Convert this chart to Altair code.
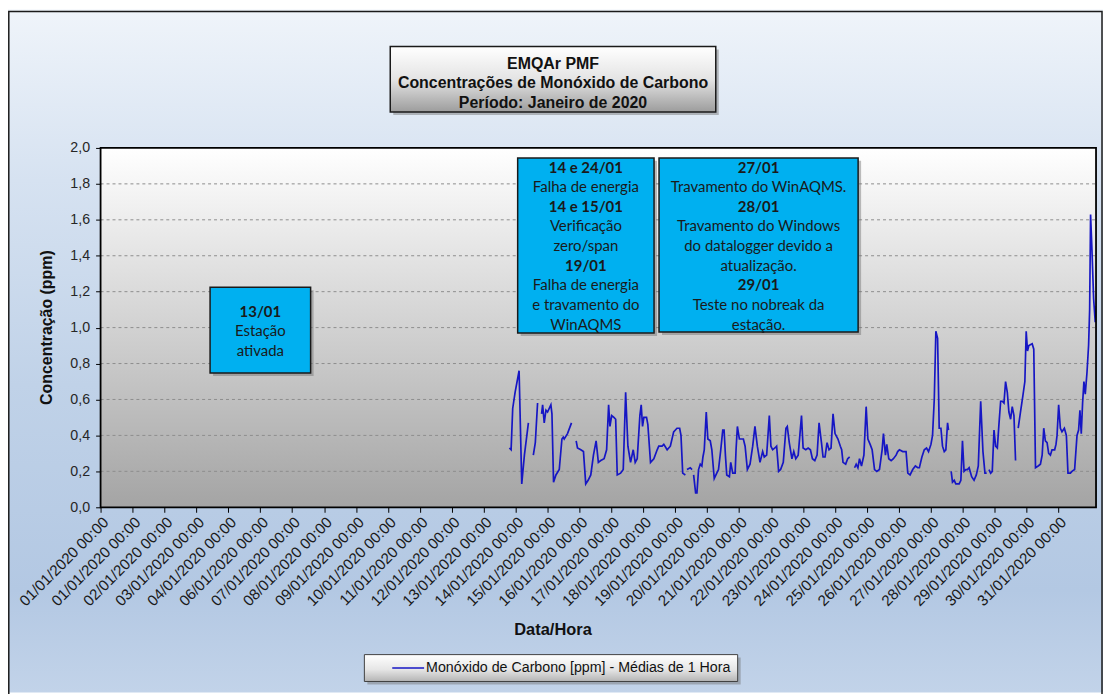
import altair as alt
import pandas as pd

# ---------------- data ----------------
x_labels = [
    "01/01/2020 00:00", "01/01/2020 00:00", "02/01/2020 00:00", "03/01/2020 00:00",
    "04/01/2020 00:00", "06/01/2020 00:00", "07/01/2020 00:00", "08/01/2020 00:00",
    "09/01/2020 00:00", "10/01/2020 00:00", "11/01/2020 00:00", "12/01/2020 00:00",
    "13/01/2020 00:00", "14/01/2020 00:00", "15/01/2020 00:00", "16/01/2020 00:00",
    "17/01/2020 00:00", "18/01/2020 00:00", "19/01/2020 00:00", "20/01/2020 00:00",
    "21/01/2020 00:00", "22/01/2020 00:00", "23/01/2020 00:00", "24/01/2020 00:00",
    "25/01/2020 00:00", "26/01/2020 00:00", "27/01/2020 00:00", "28/01/2020 00:00",
    "29/01/2020 00:00", "30/01/2020 00:00", "31/01/2020 00:00",
]
y_ticks = [0.0, 0.2, 0.4, 0.6, 0.8, 1.0, 1.2, 1.4, 1.6, 1.8, 2.0]

# hourly category index (24 per labelled tick) and CO concentration (ppm), per continuous piece
seg_a_hour = [307.3, 308.6, 309.8, 311.6, 314.6, 316.6, 318.6, 321.6]
seg_a_conc = [0.33, 0.32, 0.55, 0.64, 0.76, 0.13, 0.29, 0.47]

seg_b_hour = [325.3, 326.8, 328.5]
seg_b_conc = [0.29, 0.36, 0.58]

seg_c_hour = [331.5, 332.3, 333.5, 334.8, 336.0, 338.5, 339.3, 340.5, 342.3, 344.8,
              346.8, 347.8, 348.5, 351.0, 354.0]
seg_c_conc = [0.52, 0.57, 0.47, 0.54, 0.53, 0.57, 0.52, 0.14, 0.18, 0.21,
              0.38, 0.39, 0.38, 0.41, 0.47]

seg_d_hour = [357.5, 358.5, 361.0, 363.0, 364.7, 366.5, 368.5, 370.5, 372.5, 374.2,
              376.0, 378.5, 380.4, 381.9, 382.9, 384.2, 385.9, 387.2, 388.4, 390.9,
              392.9, 394.7, 396.4, 398.4, 400.4, 401.9, 403.4, 405.4, 406.4, 407.4,
              408.4, 410.4, 411.4, 413.4, 415.9, 418.4, 419.6, 422.1, 423.4, 425.9,
              428.3, 430.8, 433.3, 435.3, 436.3, 437.6, 439.6]
seg_d_conc = [0.37, 0.33, 0.32, 0.31, 0.13, 0.15, 0.18, 0.29, 0.37, 0.25,
              0.26, 0.27, 0.32, 0.57, 0.45, 0.51, 0.50, 0.49, 0.18, 0.19,
              0.21, 0.64, 0.34, 0.25, 0.32, 0.25, 0.27, 0.51, 0.57, 0.45,
              0.50, 0.50, 0.46, 0.25, 0.27, 0.32, 0.34, 0.34, 0.35, 0.32,
              0.34, 0.42, 0.44, 0.44, 0.40, 0.19, 0.18]

seg_e_hour = [440.8, 443.3, 444.6]
seg_e_conc = [0.21, 0.22, 0.21]

seg_f_hour = [445.8, 447.3, 448.3, 449.5, 450.8, 452.0, 452.8, 453.8, 455.3, 456.5,
              458.3, 459.5, 461.3, 463.2, 464.5, 466.2, 467.7, 468.7, 469.7, 470.7,
              472.7, 473.7, 475.2, 477.0, 477.7, 478.7, 480.2, 482.0, 483.2, 484.5,
              486.2, 488.2, 490.2, 491.9, 493.7, 495.7, 497.7, 498.9, 500.7, 502.7,
              503.9, 505.2, 506.9, 508.2, 509.7, 511.2, 513.2, 515.2, 516.2, 517.7,
              519.7, 521.1, 522.6, 524.4, 526.9, 528.1, 530.1, 531.9, 533.6, 535.1,
              536.9, 538.6, 540.1, 541.9, 543.1, 544.6, 546.1, 547.6, 549.1, 550.6,
              552.1, 554.3, 556.1, 557.1, 558.1, 560.1, 561.6, 563.1]
seg_f_conc = [0.18, 0.08, 0.08, 0.21, 0.24, 0.23, 0.28, 0.32, 0.53, 0.38,
              0.37, 0.32, 0.16, 0.19, 0.21, 0.32, 0.43, 0.43, 0.29, 0.18,
              0.17, 0.25, 0.19, 0.19, 0.32, 0.45, 0.38, 0.38, 0.38, 0.34,
              0.21, 0.24, 0.34, 0.45, 0.34, 0.25, 0.31, 0.28, 0.29, 0.51,
              0.34, 0.32, 0.33, 0.34, 0.20, 0.21, 0.25, 0.44, 0.45, 0.36,
              0.27, 0.31, 0.27, 0.29, 0.51, 0.33, 0.32, 0.33, 0.32, 0.27,
              0.26, 0.29, 0.47, 0.36, 0.28, 0.28, 0.36, 0.32, 0.33, 0.52,
              0.41, 0.38, 0.34, 0.32, 0.25, 0.24, 0.27, 0.28]

seg_g_hour = [566.8, 568.0, 569.3, 570.5, 572.0, 573.8, 575.5, 576.8, 578.5, 580.0,
              581.8, 583.5, 585.5, 587.5, 588.5, 590.0, 591.0, 592.5, 594.3, 596.0,
              598.0, 599.2, 600.5, 603.0, 605.5, 606.8, 608.5, 610.5, 612.5, 614.3,
              615.5, 617.4, 619.2, 620.9, 622.4, 624.2, 625.4, 626.7, 627.9, 629.2,
              630.4, 631.7, 632.9, 634.2, 635.4, 636.7, 637.4]
seg_g_conc = [0.22, 0.24, 0.22, 0.27, 0.23, 0.29, 0.56, 0.38, 0.35, 0.32,
              0.21, 0.20, 0.21, 0.32, 0.41, 0.29, 0.35, 0.27, 0.26, 0.27,
              0.29, 0.31, 0.32, 0.31, 0.31, 0.19, 0.18, 0.21, 0.23, 0.22,
              0.22, 0.28, 0.32, 0.33, 0.31, 0.35, 0.40, 0.60, 0.98, 0.94,
              0.44, 0.44, 0.34, 0.31, 0.32, 0.47, 0.43]

seg_h_hour = [639.4, 640.4, 641.7, 642.9, 645.4, 646.7, 647.9, 649.1, 650.4, 651.6,
              652.9, 654.8, 656.6, 658.3, 659.8, 661.6, 663.3, 664.8, 666.1]
seg_h_conc = [0.20, 0.14, 0.15, 0.13, 0.13, 0.15, 0.37, 0.20, 0.21, 0.21,
              0.22, 0.17, 0.15, 0.18, 0.23, 0.59, 0.31, 0.19, 0.19]

seg_i_hour = [667.8, 669.1, 670.3, 671.6, 672.8, 674.1, 675.3, 676.6, 677.8, 679.1,
              680.3, 681.6, 682.8, 684.1, 685.3, 686.6, 687.8]
seg_i_conc = [0.21, 0.19, 0.20, 0.43, 0.34, 0.33, 0.46, 0.59, 0.59, 0.58,
              0.70, 0.64, 0.53, 0.49, 0.56, 0.51, 0.26]

seg_j_hour = [689.8, 691.5, 693.3, 694.8, 695.8, 696.8, 697.8, 700.3, 701.5, 702.8,
              704.8, 706.5, 707.8, 709.0, 710.2, 711.5, 712.7, 714.0, 715.2, 717.2,
              718.2, 719.0, 720.2, 721.5, 722.7, 724.5, 726.0, 727.2, 729.0, 730.2,
              732.2, 734.0, 735.2, 736.2, 737.2, 738.2, 739.2, 740.2, 741.5, 742.7,
              743.5, 744.2, 745.2, 746.5, 747.7, 748.6]
seg_j_conc = [0.44, 0.53, 0.62, 0.70, 0.98, 0.87, 0.90, 0.91, 0.88, 0.22,
              0.23, 0.24, 0.29, 0.44, 0.37, 0.36, 0.30, 0.29, 0.32, 0.32,
              0.35, 0.40, 0.57, 0.44, 0.42, 0.44, 0.40, 0.19, 0.19, 0.20,
              0.21, 0.40, 0.43, 0.54, 0.41, 0.58, 0.70, 0.63, 0.75, 0.90,
              1.10, 1.63, 1.44, 1.16, 1.03, 1.12]

segments = {
    "a": (seg_a_hour, seg_a_conc), "b": (seg_b_hour, seg_b_conc),
    "c": (seg_c_hour, seg_c_conc), "d": (seg_d_hour, seg_d_conc),
    "e": (seg_e_hour, seg_e_conc), "f": (seg_f_hour, seg_f_conc),
    "g": (seg_g_hour, seg_g_conc), "h": (seg_h_hour, seg_h_conc),
    "i": (seg_i_hour, seg_i_conc), "j": (seg_j_hour, seg_j_conc),
}

# annotation texts (text, bold)
note_1 = [("13/01", True), ("Estação", False), ("ativada", False)]
note_2 = [("14 e 24/01", True), ("Falha de energia", False), ("14 e 15/01", True),
          ("Verificação", False), ("zero/span", False), ("19/01", True),
          ("Falha de energia", False), ("e travamento do", False), ("WinAQMS", False)]
note_3 = [("27/01", True), ("Travamento do WinAQMS.", False), ("28/01", True),
          ("Travamento do Windows", False), ("do datalogger devido a", False),
          ("atualização.", False), ("29/01", True), ("Teste no nobreak da", False),
          ("estação.", False)]
title_lines = ["EMQAr PMF", "Concentrações de Monóxido de Carbono", "Período: Janeiro de 2020"]
legend_label = "Monóxido de Carbono [ppm] - Médias de 1 Hora"

# ---------------- build ----------------
rows = []
for sid, (hs, cs) in segments.items():
    for h, c in zip(hs, cs, strict=True):
        rows.append({"hour": h, "conc": c, "seg": sid})
df = pd.DataFrame(rows)
grid_df = pd.DataFrame({"conc": [v for v in y_ticks if 0 < v < 2]})
dummy = pd.DataFrame({"k": [0]})

W, H = 1000, 361
PAD_L, PAD_T, PAD_R, PAD_B = 93, 139, 7, 186
X_MAX = 748.3

LINE_COLOR = "#1616c4"
ARIAL = "Liberation Sans"
NOTE_FONT = "Lato"


def grad(stops):
    return alt.LinearGradient(
        gradient="linear", x1=0, y1=0, x2=0, y2=1,
        stops=[alt.GradientStop(offset=o, color=c) for o, c in stops],
    )


def box(x1, y1, x2, y2, fill, stroke="#1a1a1a", sw=1.5, shadow=True):
    layers = []
    if shadow:
        layers.append(
            alt.Chart().mark_rect(color="#6f6f6f", opacity=0.45).encode(
                x=alt.value(x1 + 3), x2=alt.value(x2 + 3),
                y=alt.value(y1 + 3), y2=alt.value(y2 + 3)))
    layers.append(
        alt.Chart().mark_rect(fill=fill, stroke=stroke, strokeWidth=sw).encode(
            x=alt.value(x1), x2=alt.value(x2), y=alt.value(y1), y2=alt.value(y2)))
    return layers


def text(s, x, y, size, bold=False, font=ARIAL, align="center", color="#111111"):
    return alt.Chart().mark_text(
        font=font, fontSize=size, fontWeight="bold" if bold else "normal",
        align=align, baseline="middle", color=color,
    ).encode(x=alt.value(x), y=alt.value(y), text=alt.value(s))


layers = []
# chart background + border
layers.append(
    alt.Chart().mark_rect(fill=grad([(0, "#eff4fa"), (0.25, "#d6e2f1"), (0.55, "#c0d2e8"),
                                     (0.85, "#b3c8e3"), (1, "#c2d3e9")])).encode(
        x=alt.value(-PAD_L), x2=alt.value(W + PAD_R),
        y=alt.value(-PAD_T), y2=alt.value(H + PAD_B)))
layers.append(
    alt.Chart().mark_rect(fill=None, stroke="#1a1a1a", strokeWidth=1.5).encode(
        x=alt.value(-PAD_L + 0.8), x2=alt.value(W + 6),
        y=alt.value(-137), y2=alt.value(H + PAD_B + 20)))

# title box
layers += box(291, -102, 618, -36, grad([(0, "#ffffff"), (0.5, "#e4e4e4"), (1, "#9c9c9c")]))
for i, t in enumerate(title_lines):
    layers.append(text(t, 454.5, -84 + i * 19.3, 16, bold=True))

# plot area
layers.append(
    alt.Chart().mark_rect(fill=grad([(0, "#ffffff"), (1, "#a4a4a4")])).encode(
        x=alt.value(0), x2=alt.value(W), y=alt.value(0), y2=alt.value(H)))

yscale = alt.Scale(domain=[0, 2], nice=False, zero=True)
xscale = alt.Scale(domain=[0, X_MAX], nice=False, zero=False)

label_arr = "[" + ",".join("'" + s + "'" for s in x_labels) + "]"
x_axis = alt.Axis(
    values=[24 * i for i in range(len(x_labels))],
    labelExpr=label_arr + "[round(datum.value/24)]",
    labelAngle=-45, labelAlign="right", labelBaseline="top",
    labelFont=ARIAL, labelFontSize=15.3, labelColor="#1a1a1a", labelPadding=2,
    labelOverlap=False, labelFlush=False, labelBound=False,
    tickSize=5, tickColor="#000000", tickWidth=1, domain=False, grid=False,
    title="Data/Hora", titleFont=ARIAL, titleFontSize=16.5, titleFontWeight="bold",
    titleColor="#111111", titleX=454, titleY=123, titleAlign="center",
    titleBaseline="middle", titleAnchor=None, zindex=1,
)
y_axis = alt.Axis(
    values=y_ticks,
    labelExpr="replace(format(datum.value, '.1f'), '.', ',')",
    labelFont=ARIAL, labelFontSize=14.3, labelColor="#262626", labelPadding=6,
    tickSize=5, tickColor="#000000", tickWidth=1, domain=False, grid=False,
    title="Concentração (ppm)", titleFont=ARIAL, titleFontSize=16, titleFontWeight="bold",
    titleColor="#111111", titleAngle=-90, titleX=-54, titleY=180, titleAlign="center",
    titleBaseline="middle", zindex=1,
)

layers.append(
    alt.Chart(grid_df).mark_rule(color="#8d8d8d", strokeDash=[3, 3], strokeWidth=1).encode(
        y=alt.Y("conc:Q", scale=yscale, axis=y_axis),
        x=alt.value(0), x2=alt.value(W)))

layers.append(
    alt.Chart(df).mark_line(color=LINE_COLOR, strokeWidth=1.7, clip=True,
                            interpolate="linear").encode(
        x=alt.X("hour:Q", scale=xscale, axis=x_axis),
        y=alt.Y("conc:Q", scale=yscale, axis=y_axis),
        detail="seg:N", order="hour:Q"))

# plot border
layers.append(
    alt.Chart().mark_rect(fill=None, stroke="#000000", strokeWidth=1.8).encode(
        x=alt.value(0), x2=alt.value(W), y=alt.value(0), y2=alt.value(H)))

# annotation boxes
NOTE_FILL = "#00b0f0"
LINE_GAP = 19.75
for (x1, y1, x2, y2, lines) in [(110, 140, 211, 226, note_1),
                                (419, 10, 556, 186, note_2),
                                (561, 10, 761, 185, note_3)]:
    layers += box(x1, y1, x2, y2, NOTE_FILL)
    cx = (x1 + x2) / 2
    top = y1 + 9.7 if len(lines) > 3 else y1 + 24.5
    for i, (t, b) in enumerate(lines):
        layers.append(text(t, cx, top + i * LINE_GAP, 15, bold=b, font=NOTE_FONT,
                           color="#1a1a1a"))

# legend
layers += box(265, 509, 640, 536, grad([(0, "#ffffff"), (0.55, "#e6e6e6"), (1, "#b4b4b4")]),
              stroke="#404040", sw=1)
layers.append(
    alt.Chart().mark_rule(color=LINE_COLOR, strokeWidth=1.6).encode(
        x=alt.value(293), x2=alt.value(325), y=alt.value(522.5)))
layers.append(text(legend_label, 327, 522.5, 14.3, align="left"))

chart = alt.layer(*layers, data=dummy).properties(
    width=W, height=H,
    autosize=alt.AutoSizeParams(type="none"),
    padding={"left": PAD_L, "top": PAD_T, "right": PAD_R, "bottom": PAD_B},
).configure_view(stroke=None).configure(background="#ffffff")

chart.save("out.html", embed_options={"renderer": "svg", "actions": False})
